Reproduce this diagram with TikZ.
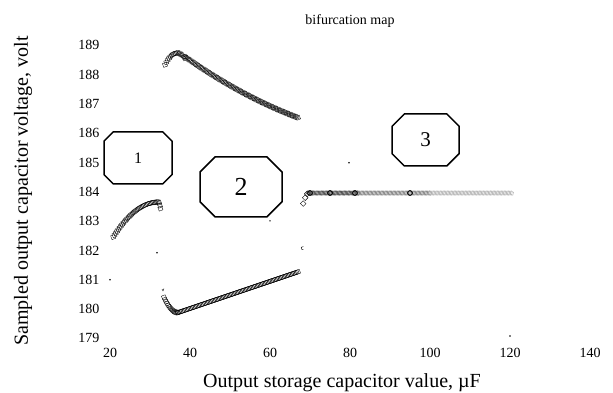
\documentclass[tikz,border=0pt]{standalone}
\usepackage{fontspec}
\setmainfont{Liberation Serif}
\usetikzlibrary{shapes.misc, plotmarks}

\begin{document}
\begin{tikzpicture}[x=4pt, y=29.3pt,
	tick/.style={font=\fontsize{14}{14}\selectfont},
	axislabel/.style={font=\fontsize{20}{20}\selectfont},
	region/.style={draw, line width=1.5pt, chamfered rectangle, chamfered rectangle xsep=16pt, chamfered rectangle ysep=14pt, inner sep=0pt},
	band/.style={only marks, mark=square, mark size=2pt, mark options={line width=0.35pt, rotate=20}},
	speck/.style={fill, circle, inner sep=0.6pt}]
		
		\useasboundingbox (-7.5,177.12) rectangle (145.75,190.5);
		
		\node (title) at (80,189.78) {\fontsize{14}{14}\selectfont bifurcation map};
		
		\foreach \v in {179,...,189}
		\node[tick, anchor=east, yshift=-1.5pt] (y\v) at (18.25,\v) {\v};
		\foreach \v in {20,40,...,140}
		\node[tick] (x\v) at (\v,178.45) {\v};
		
		\node[axislabel] (xlabel) at (78,177.42) {Output storage capacitor value, µF};
		\node[axislabel, rotate=90] (ylabel) at (-1.75,183.98) {Sampled output capacitor voltage, volt};
		
		\node[region, minimum width=68pt, minimum height=52pt] (r1) at (27,185.11) {\fontsize{16}{16}\selectfont 1};
		\node[region, minimum width=82pt, minimum height=60pt, chamfered rectangle xsep=18pt, chamfered rectangle ysep=16pt] (r2) at (52.75,184.12) {\fontsize{26}{26}\selectfont 2};
		\node[region, minimum width=67pt, minimum height=52pt] (r3) at (98.9,185.72) {\fontsize{21}{21}\selectfont 3};
		
		% upper branch
		\draw plot[band, domain=33.75:38.75, samples=16] (\x, {188.69-0.045*(\x-36.75)^2});
		\draw plot[band, domain=38.75:67, samples=85] (\x, {188.56-0.0736*(\x-38.75)-0.0008*(\x-38.75)*(67-\x)});
		
		% lower branches
		\draw plot[band, domain=20.8:32, samples=36] (\x, {183.6-0.0095*(32-\x)^2});
		\draw plot[band] coordinates {(32.3,183.58) (32.5,183.48) (32.6,183.38)};
		\draw plot[band, domain=33.5:37, samples=14] (\x, {179.83+0.0424*(37-\x)^2});
		\draw plot[band, domain=37:67, samples=90] (\x, {179.83+0.0463*(\x-37)});
		
		% single period
		\draw plot[band, mark options={rotate=45}] coordinates {(68.3,183.55) (68.8,183.75) (69.3,183.88)};
		\draw[black!75] plot[band, mark=diamond, mark size=2.4pt, domain=69.5:82, samples=40] (\x, 183.91);
		\draw[black!50] plot[band, mark=diamond, mark size=2.4pt, domain=82:100, samples=55] (\x, 183.91);
		\draw[black!30] plot[band, mark=diamond, mark size=2.4pt, domain=100:120.5, samples=60] (\x, 183.91);
		\draw plot[only marks, mark=o, mark size=2.4pt, mark options={line width=0.9pt}] coordinates {(70,183.91) (75,183.91) (81.25,183.91) (95,183.91)};
		
		% stray points
		\draw[line width=0.4pt] (33.0,180.63) -- (33.25,180.57) -- (33.5,180.65);
		\draw[line width=0.4pt] (68.35,182.08) arc[start angle=60, end angle=300, radius=1.6pt];
		\node[speck] (d1) at (31.75,181.87) {};
		\node[speck] (d2) at (20,180.95) {};
		\node[speck] (d3) at (60,182.96) {};
		\node[speck] (d4) at (79.75,184.94) {};
		\node[speck] (d5) at (120,179.03) {};
		
		\end{tikzpicture}
\end{document}
